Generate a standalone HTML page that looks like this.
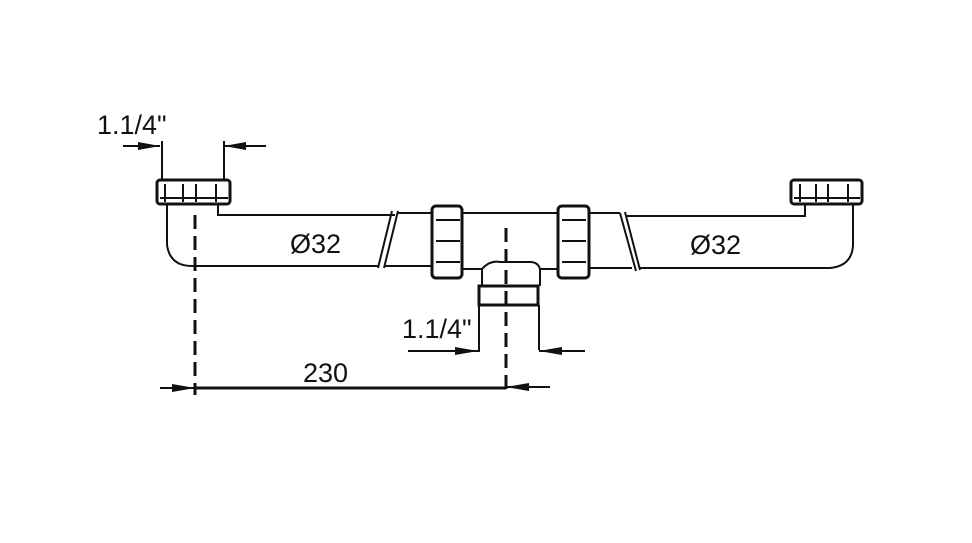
<!DOCTYPE html>
<html><head><style>body{margin:0;background:#fff}svg{display:block}text{font-family:"Liberation Sans",sans-serif;font-size:27px;fill:#111}</style></head>
<body>
<svg width="972" height="543" viewBox="0 0 972 543" xmlns="http://www.w3.org/2000/svg">
<g stroke="#111" fill="none" stroke-width="2">
<rect x="157" y="180" width="73" height="24" rx="3" stroke-width="3"/>
<line x1="165" y1="184" x2="165" y2="202"/><line x1="183" y1="184" x2="183" y2="202"/><line x1="196" y1="184" x2="196" y2="202"/><line x1="216" y1="184" x2="216" y2="202"/>
<line x1="160" y1="198" x2="228" y2="198"/>
<path d="M218 204 V215 H395"/>
<path d="M167 204 V245 Q170 266 192 266 H378"/>
<line x1="378" y1="268" x2="392" y2="211"/><line x1="384" y1="268" x2="398" y2="211"/>
<path d="M398 213 H433 M385 266 H433"/>
<rect x="432" y="206" width="30" height="72" rx="4" stroke-width="3"/>
<line x1="436" y1="220" x2="460" y2="220"/><line x1="436" y1="241" x2="460" y2="241"/><line x1="436" y1="262" x2="460" y2="262"/>
<rect x="558" y="206" width="31" height="72" rx="4" stroke-width="3"/>
<line x1="562" y1="220" x2="586" y2="220"/><line x1="562" y1="241" x2="586" y2="241"/><line x1="562" y1="262" x2="586" y2="262"/>
<path d="M462 213 H558"/>
<path d="M462 269 H482 Q490 260 500 262 H530 Q538 262 540 269 H558"/>
<path d="M482 269 V286 M540 269 V286"/>
<rect x="479" y="286" width="59" height="19" stroke-width="3"/>
<path d="M479 305 V352 M539 305 V350"/>
<path d="M590 213 H620 M590 268 H632"/>
<line x1="620" y1="213" x2="636" y2="271"/><line x1="625" y1="212" x2="640" y2="270"/>
<path d="M627 216 H805 V204"/>
<path d="M640 268 H830 Q852 266 853 245 V204"/>
<rect x="791" y="180" width="71" height="24" rx="3" stroke-width="3"/>
<line x1="800" y1="184" x2="800" y2="202"/><line x1="816" y1="184" x2="816" y2="202"/><line x1="828" y1="184" x2="828" y2="202"/><line x1="848" y1="184" x2="848" y2="202"/>
<line x1="794" y1="198" x2="860" y2="198"/>
<path d="M162 141 V180 M224 141 V180"/>
<path d="M123 146 H160 M224 146 H266"/>
<path d="M195 215 V395" stroke-dasharray="14 7" stroke-width="3"/>
<path d="M506 228 V395" stroke-dasharray="14 7" stroke-width="3"/>
<path d="M195 388 H506" stroke-width="3"/>
<path d="M160 388 H195 M506 387 H550"/>
<path d="M408 351 H478 M539 351 H585"/>
</g>
<g fill="#111">
<polygon points="160,146 138,142 138,150"/><polygon points="224,146 246,142 246,150"/>
<polygon points="195,388 172,384 172,392"/><polygon points="506,387 529,383 529,391"/>
<polygon points="478,351 455,347 455,355"/><polygon points="539,351 562,347 562,355"/>
</g>
<text x="97" y="134">1.1/4"</text>
<text x="290" y="253">Ø32</text>
<text x="690" y="254">Ø32</text>
<text x="402" y="338">1.1/4"</text>
<text x="303" y="382">230</text>
</svg>
</body></html>
